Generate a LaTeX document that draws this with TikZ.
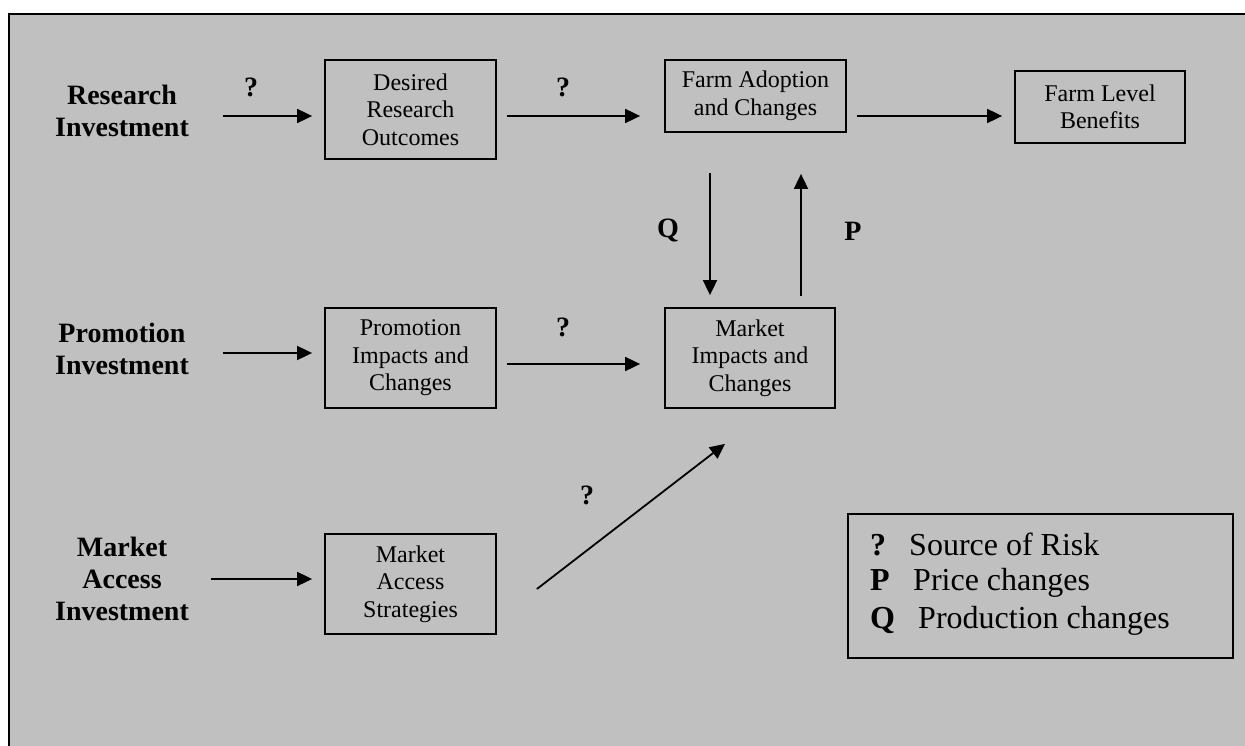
\documentclass[tikz,border=0pt]{standalone}
\usepackage{fontspec}
\setmainfont{Liberation Serif}
\usetikzlibrary{arrows.meta}
\definecolor{bg}{HTML}{C0C0C0}
\begin{document}
\begin{tikzpicture}[x=1pt,y=-1pt,
  box/.style={draw,line width=1.8pt,inner sep=0pt,align=center,font=\fontsize{24}{27.5}\selectfont},
  lbl/.style={align=center,font=\fontsize{28}{32}\selectfont\bfseries},
  qm/.style={font=\fontsize{28}{32}\selectfont\bfseries},
  arr/.style={line width=1.8pt,-{Triangle[length=15pt,width=14pt]}},
  legtxt/.style={anchor=base west,inner sep=0pt,font=\fontsize{32}{36}\selectfont},
  legsym/.style={anchor=base west,inner sep=0pt,font=\fontsize{32}{36}\selectfont\bfseries}]
\useasboundingbox (0,0) rectangle (1245,746);
\fill[white] (0,0) rectangle (1245,746);
\draw[fill=bg,line width=2pt] (9,14) rectangle (1262,762);

% left labels
\node[lbl] (ri) at (122,111) {Research\\Investment};
\node[lbl] (pi) at (122,349) {Promotion\\Investment};
\node[lbl] (mai) at (122,579) {Market\\Access\\Investment};

% boxes
\node[box,minimum width=171pt,minimum height=99pt] (dro) at (410.5,109.5) {Desired\\Research\\Outcomes};
\node[box,minimum width=181pt,minimum height=72pt] (fa) at (755.5,96) {\raisebox{-3pt}{\begin{tabular}{@{}c@{}}Farm Adoption\\[0.5pt]and Changes\end{tabular}}};
\node[box,minimum width=170pt,minimum height=72pt] (flb) at (1100,107) {Farm Level\\Benefits};
\node[box,minimum width=171pt,minimum height=100pt] (pic) at (410.5,358) {Promotion\\Impacts and\\Changes};
\node[box,minimum width=170pt,minimum height=100pt] (mic) at (750,358) {Market\\Impacts and\\Changes};
\node[box,minimum width=171pt,minimum height=100pt] (mas) at (410.5,584) {Market\\Access\\Strategies};

% free arrow starts
\coordinate (s1) at ([xshift=-101pt,yshift=-6.5pt]dro.west);
\coordinate (s4) at ([xshift=-101pt,yshift=5pt]pic.west);
\coordinate (s6) at ([xshift=-113pt,yshift=5pt]mas.west);

% arrows
\draw[arr] (s1) -- ([xshift=-12pt,yshift=-6.5pt]dro.west);
\draw[arr] ([xshift=10pt,yshift=-6.5pt]dro.east) -- ([xshift=-24pt,yshift=-20pt]fa.west);
\draw[arr] ([xshift=10pt,yshift=-20pt]fa.east) -- ([xshift=-12pt,yshift=-9pt]flb.west);
\draw[arr] (s4) -- ([xshift=-12pt,yshift=5pt]pic.west);
\draw[arr] ([xshift=10pt,yshift=-6pt]pic.east) -- ([xshift=-24pt,yshift=-6pt]mic.west);
\draw[arr] (s6) -- ([xshift=-12pt,yshift=5pt]mas.west);
\draw[arr] ([xshift=40pt,yshift=-5pt]mas.east) -- ([xshift=-25pt,yshift=-35pt]mic.south);
\draw[arr] ([xshift=-45.5pt,yshift=-40pt]fa.south) -- ([xshift=-40pt,yshift=12pt]mic.north);
\draw[arr] ([xshift=51pt,yshift=11pt]mic.north) -- ([xshift=45.5pt,yshift=-41pt]fa.south);

% labels
\node[qm] (q1) at (251,87) {?};
\node[qm] (q2) at (563,87) {?};
\node[qm] (q3) at (563,327) {?};
\node[qm] (q4) at (587,495) {?};
\node[qm] (ql) at (668,231) {Q};
\node[qm] (pl) at (853,231) {P};

% legend
\node[draw,line width=1.8pt,minimum width=385pt,minimum height=144pt] (leg) at (1040.5,586) {};
\node[legsym] (ls1) at (870,555) {?};
\node[legtxt] (lt1) at (909,555) {Source of Risk};
\node[legsym] (ls2) at (870,590) {P};
\node[legtxt] (lt2) at (913,590) {Price changes};
\node[legsym] (ls3) at (870,628) {Q};
\node[legtxt] (lt3) at (918,628) {Production changes};
\end{tikzpicture}
\end{document}
